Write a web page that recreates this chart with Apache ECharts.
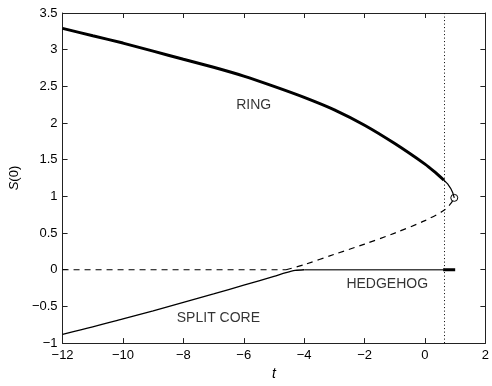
<!DOCTYPE html>
<html>
<head>
<meta charset="utf-8">
<script src="https://cdn.jsdelivr.net/npm/echarts@6/dist/echarts.min.js"></script>
<style>html,body{margin:0;padding:0;background:#fff;}#c{width:492px;height:386px;}</style>
</head>
<body>
<div id="c"></div>
<script>
// Data
const ringT      = [-12, -11, -10, -9, -8, -7, -6, -5, -4, -3, -2, -1, 0, 0.3, 0.63];
const ringS      = [3.29, 3.19, 3.09, 2.98, 2.87, 2.76, 2.64, 2.50, 2.35, 2.18, 1.97, 1.72, 1.44, 1.34, 1.22];
const ringEndT   = [0.63, 0.75, 0.85, 0.92, 0.97];
const ringEndS   = [1.22, 1.17, 1.11, 1.05, 0.98];
const unstT      = [-4.6, -4, -3, -2, -1, 0, 0.63, 0.85, 0.97];
const unstS      = [0, 0.07, 0.21, 0.35, 0.50, 0.67, 0.81, 0.90, 0.98];
const zeroDashT  = [-12, -4.6];
const zeroDashS  = [0, 0];
const splitT     = [-12, -11, -10, -9, -8, -7, -6, -5, -4.6, -4.3, -4];
const splitS     = [-0.88, -0.78, -0.67, -0.56, -0.445, -0.33, -0.21, -0.09, -0.04, -0.01, 0];
const hedgeT     = [-4, -2, 0.6];
const hedgeS     = [0, 0, 0];
const hedgeEndT  = [0.6, 1.0];
const hedgeEndS  = [0, 0];
const critPoint  = [0.97, 0.98];
const dottedT    = 0.63;
const labelNames = ['RING', 'SPLIT CORE', 'HEDGEHOG'];
const labelT     = [-5.67, -6.84, -1.25];
const labelS     = [2.245, -0.66, -0.195];
const xTicks     = [-12, -10, -8, -6, -4, -2, 0, 2];
const yTicks     = [-1, -0.5, 0, 0.5, 1, 1.5, 2, 2.5, 3, 3.5];

const zip = (a, b) => a.map((v, i) => [v, b[i]]);
const fmt = v => String(v).replace('-', '\u2212');
const FONT = 'Liberation Sans';

const axisCommon = {
  axisLine: {show: true, onZero: false, lineStyle: {color: '#222', width: 1}},
  axisTick: {show: true, inside: true, length: 5, lineStyle: {color: '#222'}},
  splitLine: {show: false}
};

const chart = echarts.init(document.getElementById('c'), null, {renderer: 'canvas'});
chart.setOption({
  animation: false,
  backgroundColor: '#fff',
  grid: {left: 56, right: 5, top: 13, bottom: 32, containLabel: false},
  xAxis: [
    Object.assign({
      type: 'value', min: xTicks[0], max: xTicks[xTicks.length - 1], interval: 2, position: 'bottom',
      axisLabel: {formatter: fmt, color: '#000', fontFamily: FONT, fontSize: 13, margin: 6},
      name: 't', nameLocation: 'middle', nameGap: 19,
      nameTextStyle: {fontStyle: 'italic', fontFamily: FONT, fontSize: 14, color: '#000'}
    }, axisCommon),
    Object.assign({
      type: 'value', min: xTicks[0], max: xTicks[xTicks.length - 1], interval: 2, position: 'top',
      axisLabel: {show: false}
    }, axisCommon)
  ],
  yAxis: [
    Object.assign({
      type: 'value', min: yTicks[0], max: yTicks[yTicks.length - 1], interval: 0.5, position: 'left',
      axisLabel: {formatter: fmt, color: '#000', fontFamily: FONT, fontSize: 13, margin: 5},
      name: '{i|S}(0)', nameLocation: 'middle', nameGap: 34, nameRotate: 90,
      nameTextStyle: {fontFamily: FONT, fontSize: 13, color: '#000',
        rich: {i: {fontStyle: 'italic', fontFamily: FONT, fontSize: 13, color: '#000'}}}
    }, axisCommon),
    Object.assign({
      type: 'value', min: yTicks[0], max: yTicks[yTicks.length - 1], interval: 0.5, position: 'right',
      axisLabel: {show: false}
    }, axisCommon)
  ],
  series: [
    {type: 'line', data: zip(ringT, ringS), smooth: 0.25, showSymbol: false,
     lineStyle: {color: '#000', width: 3}, z: 5},
    {type: 'line', data: zip(ringEndT, ringEndS), smooth: false, showSymbol: false,
     lineStyle: {color: '#000', width: 1.2}, z: 5},
    {type: 'line', data: zip(unstT, unstS), smooth: 0.3, showSymbol: false,
     lineStyle: {color: '#000', width: 1.2, type: [6, 5]}, z: 4},
    {type: 'line', data: zip(zeroDashT, zeroDashS), showSymbol: false,
     lineStyle: {color: '#000', width: 1.2, type: [6, 5]}, z: 4},
    {type: 'line', data: zip(splitT, splitS), smooth: 0.3, showSymbol: false,
     lineStyle: {color: '#000', width: 1.3}, z: 4},
    {type: 'line', data: zip(hedgeT, hedgeS), showSymbol: false,
     lineStyle: {color: '#444', width: 1.6}, z: 4},
    {type: 'line', data: zip(hedgeEndT, hedgeEndS), showSymbol: false,
     lineStyle: {color: '#000', width: 3}, z: 5},
    {type: 'scatter', data: [critPoint], symbol: 'circle', symbolSize: 7,
     itemStyle: {color: 'rgba(255,255,255,0)', borderColor: '#000', borderWidth: 1, opacity: 1}, z: 10,
     markLine: {silent: true, symbol: ['none', 'none'], label: {show: false},
       lineStyle: {color: '#000', type: [1, 2.5], width: 1},
       data: [{xAxis: dottedT}]}},
    {type: 'scatter', symbolSize: 0, silent: true,
     data: labelNames.map((n, i) => ({name: n, value: [labelT[i], labelS[i]]})),
     label: {show: true, position: 'inside', formatter: p => p.name,
       color: '#000', fontFamily: FONT, fontSize: 14}, z: 7}
  ]
});
</script>
</body>
</html>
